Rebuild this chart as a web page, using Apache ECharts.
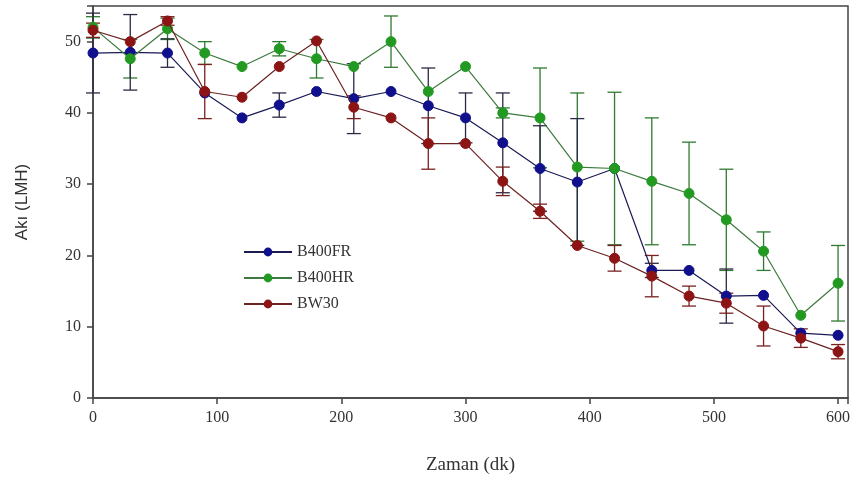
<!DOCTYPE html>
<html>
<head>
<meta charset="utf-8">
<script src="https://cdn.jsdelivr.net/npm/echarts@6/dist/echarts.min.js"></script>
<style>html,body{margin:0;padding:0;background:#fff}#c{width:854px;height:490px}</style>
</head>
<body>
<div id="c"></div>
<script>
const times = [0,30,60,90,120,150,180,210,240,270,300,330,360,390,420,450,480,510,540,570,600];
const fr     = [48.4,48.5,48.4,42.8,39.3,41.1,43.0,42.0,43.0,41.0,39.3,35.8,32.2,30.3,32.2,17.9,17.9,14.3,14.4,9.1,8.8];
const frErr  = [5.6,5.3,2.0,0,0,1.7,0,4.9,0,5.3,3.5,7.0,6.0,8.9,0,1.0,0,3.8,0,0,0];
const hr     = [52.0,47.6,51.8,48.4,46.5,49.0,47.6,46.5,50.0,43.0,46.5,40.0,39.3,32.4,32.2,30.4,28.7,25.0,20.6,11.6,16.1];
const hrErr  = [1.5,2.7,1.5,1.6,0,1.0,2.7,0,3.6,0,0,0.7,7.0,10.4,10.7,8.9,7.2,7.1,2.7,0,5.3];
const bw     = [51.6,50.0,52.9,43.0,42.2,46.5,50.1,40.8,39.3,35.7,35.7,30.4,26.2,21.4,19.6,17.1,14.3,13.3,10.1,8.4,6.5];
const bwErr  = [1.0,0,0.6,3.8,0,0,0,1.6,0,3.6,0,2.0,1.0,0,1.8,2.9,1.4,1.4,2.8,1.3,1.0];
const names  = ['B400FR','B400HR','BW30'];
const xTicks = [0,100,200,300,400,500,600];
const yTicks = [0,10,20,30,40,50];

const colors = {fill:['#10108c','#229a22','#8c1414'], line:['#1a1a55','#3d7a3d','#6e2222'], err:['#2a2a44','#2f7a2f','#7a2020']};
const means = [fr,hr,bw];
const errs = [frErr,hrErr,bwErr];

function errSeries(i){
  const data = times.map((t,k)=>[t, means[i][k], errs[i][k]]).filter(d=>d[2]>0);
  return {
    type:'custom', z:1, silent:true,
    data:data,
    encode:{x:0,y:[1]},
    renderItem:function(params, api){
      const x = api.value(0), m = api.value(1), e = api.value(2);
      const lo = api.coord([x, m-e]), hi = api.coord([x, m+e]);
      const w = 7;
      const st = {stroke:colors.err[i], lineWidth:1.3};
      return {type:'group', children:[
        {type:'line', shape:{x1:lo[0],y1:lo[1],x2:hi[0],y2:hi[1]}, style:st},
        {type:'line', shape:{x1:lo[0]-w,y1:lo[1],x2:lo[0]+w,y2:lo[1]}, style:st},
        {type:'line', shape:{x1:hi[0]-w,y1:hi[1],x2:hi[0]+w,y2:hi[1]}, style:st}
      ]};
    }
  };
}
function lineSeries(i){
  return {
    type:'line', name:names[i], z:3+i,
    data: times.map((t,k)=>[t, means[i][k]]),
    symbol:'circle', symbolSize:10,
    itemStyle:{color:colors.fill[i], borderColor:colors.fill[i]},
    lineStyle:{color:colors.line[i], width:1.2},
    emphasis:{disabled:true}
  };
}
const serif = "'Liberation Serif','DejaVu Serif',serif";
const chart = echarts.init(document.getElementById('c'));
chart.setOption({
  animation:false,
  backgroundColor:'#fff',
  grid:{left:93, right:6, top:6, bottom:92, show:true, borderColor:'#444', borderWidth:1.5, backgroundColor:'transparent'},
  legend:{
    data:names, orient:'vertical', left:238, top:239, itemWidth:48, itemHeight:11, itemGap:10,
    textStyle:{fontFamily:serif, fontSize:16, color:'#333'}
  },
  xAxis:{
    type:'value', min:0, max:608, interval:100,
    axisLine:{show:true, onZero:false, lineStyle:{color:'#444', width:1.5}},
    axisTick:{show:true, length:6, lineStyle:{color:'#444', width:1.5}},
    splitLine:{show:false},
    axisLabel:{fontFamily:serif, fontSize:16, color:'#333', margin:12,
      customValues: xTicks},
    name:'Zaman (dk)', nameLocation:'middle', nameGap:58,
    nameTextStyle:{fontFamily:serif, fontSize:19, color:'#333'}
  },
  yAxis:{
    type:'value', min:0, max:55, interval:10,
    axisLine:{show:true, lineStyle:{color:'#444', width:1.5}},
    axisTick:{show:true, length:6, lineStyle:{color:'#444', width:1.5}},
    splitLine:{show:false},
    axisLabel:{fontFamily:serif, fontSize:16, color:'#333', margin:12,
      formatter:function(v){return yTicks.indexOf(v)>=0 ? String(v) : '';}},
    name:'Akı (LMH)', nameLocation:'middle', nameGap:62,
    nameTextStyle:{fontFamily:"'Liberation Sans','DejaVu Sans',sans-serif", fontSize:17, color:'#333'}
  },
  series:[errSeries(1), errSeries(0), errSeries(2), lineSeries(1), lineSeries(0), lineSeries(2)]
});
</script>
</body>
</html>
